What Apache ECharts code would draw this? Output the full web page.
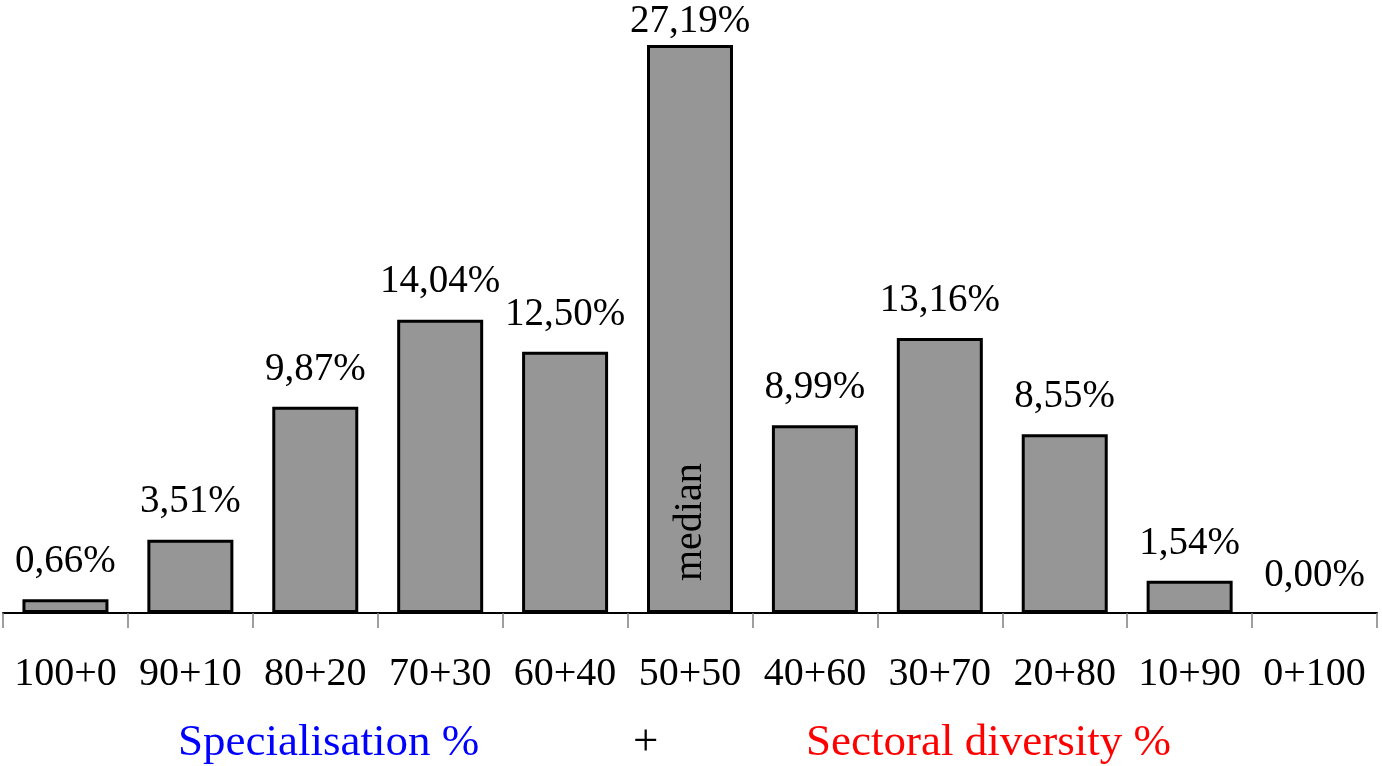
<!DOCTYPE html>
<html>
<head>
<meta charset="utf-8">
<script src="https://cdn.jsdelivr.net/npm/echarts@6/dist/echarts.min.js"></script>
<style>
  html, body { margin: 0; padding: 0; background: #fff; }
  #chart { width: 1382px; height: 766px; }
</style>
</head>
<body>
<div id="chart"></div>
<script>
// Share of cases by specialisation/diversity split
const categories = ['100+0', '90+10', '80+20', '70+30', '60+40', '50+50', '40+60', '30+70', '20+80', '10+90', '0+100'];
const shares = [0.66, 3.51, 9.87, 14.04, 12.50, 27.19, 8.99, 13.16, 8.55, 1.54, 0.00];
const medianCategory = '50+50';
const medianText = 'median';
const leftTitle = 'Specialisation %';
const joinText = '+';
const rightTitle = 'Sectoral diversity %';

const serif = '"Liberation Serif", "DejaVu Serif", serif';
const fmt = v => v.toFixed(2).replace('.', ',') + '%';
const peak = Math.max(...shares);

// Bar items: empty bars get no outline, the tallest label sits tight under the top edge
const barItems = shares.map(v => ({
  value: v,
  itemStyle: v === 0 ? { borderWidth: 0, color: 'rgba(0,0,0,0)' } : undefined,
  label: v === peak ? { distance: 4 } : undefined
}));

const chart = echarts.init(document.getElementById('chart'));
chart.setOption({
  animation: false,
  backgroundColor: '#ffffff',
  grid: { left: 3, right: 5, top: 28, bottom: 153, containLabel: false },
  xAxis: {
    type: 'category',
    data: categories,
    axisLine: { lineStyle: { color: '#000', width: 2 } },
    axisTick: { show: true, length: 15, lineStyle: { color: '#808080', width: 1.5 } },
    axisLabel: { interval: 0, margin: 41, color: '#000', fontFamily: serif, fontSize: 40 }
  },
  yAxis: {
    type: 'value',
    min: 0,
    max: 28,
    show: false,
    splitLine: { show: false }
  },
  series: [
    {
      type: 'bar',
      data: barItems,
      barWidth: 86,
      itemStyle: { color: '#969696', borderColor: '#000', borderWidth: 3 },
      label: {
        show: true,
        position: 'top',
        distance: 18,
        color: '#000',
        fontFamily: serif,
        fontSize: 39,
        formatter: p => fmt(p.value)
      }
    },
    {
      // transparent overlay carrying the rotated median note
      type: 'bar',
      data: shares,
      barWidth: 86,
      barGap: '-100%',
      silent: true,
      itemStyle: { color: 'rgba(0,0,0,0)' },
      label: {
        show: true,
        position: 'insideBottom',
        distance: 32,
        rotate: 90,
        align: 'left',
        verticalAlign: 'middle',
        color: '#000',
        fontFamily: serif,
        fontSize: 40,
        formatter: p => p.name === medianCategory ? medianText : ''
      }
    }
  ],
  graphic: [
    { type: 'text', left: 178, top: 721, style: { text: leftTitle, fill: '#0000ff', font: '45px ' + serif } },
    { type: 'text', left: 633, top: 721, style: { text: joinText, fill: '#000', font: '45px ' + serif } },
    { type: 'text', left: 806, top: 721, style: { text: rightTitle, fill: '#ff0000', font: '45px ' + serif } }
  ]
});
</script>
</body>
</html>
